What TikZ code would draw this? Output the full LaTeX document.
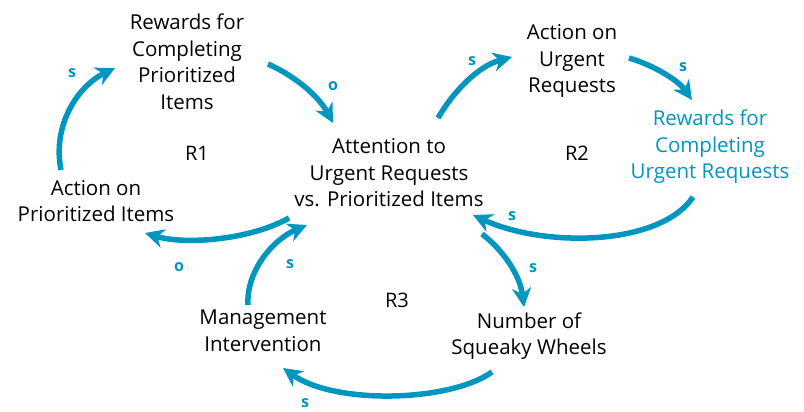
\documentclass[tikz,border=0pt]{standalone}
\usepackage{fontspec}
\setmainfont{Open Sans}
\usetikzlibrary{arrows.meta}
\definecolor{teal1}{RGB}{0,150,192}
\begin{document}
\begin{tikzpicture}[x=1pt,y=-1pt,
 lbl/.style={font=\fontsize{20.5}{26.5}\selectfont, align=center, inner sep=0pt},
 pol/.style={text=teal1, font=\fontsize{16}{16}\selectfont\bfseries, inner sep=0pt},
 link/.style={draw=teal1, line width=5.5pt, -{Stealth[length=19pt,width=19pt,inset=6pt]}},
 loopname/.style={font=\fontsize{20}{22}\selectfont, inner sep=0pt}]
\useasboundingbox (0,0) rectangle (804,412);
% variables
\node[lbl] (rpi) at (187,62) {Rewards for\\Completing\\Prioritized\\Items};
\node[lbl] (aur) at (572,61) {Action on\\Urgent\\Requests};
\node[lbl, text=teal1] (rur) at (710,147) {Rewards for\\Completing\\Urgent Requests};
\node[lbl] (attn) at (389,173) {Attention to\\Urgent Requests\\vs. Prioritized Items};
\node[lbl] (api) at (96,201) {Action on\\Prioritized Items};
\node[lbl] (mgmt) at (263,331) {Management\\Intervention};
\node[lbl] (sqw) at (529,336) {Number of\\Squeaky Wheels};
% loop names
\node[loopname] (r1) at (197,153) {R1};
\node[loopname] (r2) at (577,153) {R2};
\node[loopname] (r3) at (397,300) {R3};
% connector end points
\coordinate (a1s) at (61,170);  \coordinate (a1e) at (115,68);
\coordinate (a2s) at (268,64);  \coordinate (a2e) at (333,123);
\coordinate (a3s) at (289,218); \coordinate (a3e) at (145,233);
\coordinate (a4s) at (248,305); \coordinate (a4e) at (307,225);
\coordinate (a5s) at (492,372); \coordinate (a5e) at (283,368);
\coordinate (a6s) at (482,234); \coordinate (a6e) at (524,307);
\coordinate (a7s) at (693,197); \coordinate (a7e) at (473,215);
\coordinate (a8s) at (438,118); \coordinate (a8e) at (512,57);
\coordinate (a9s) at (629,58);  \coordinate (a9e) at (692,100);
% connectors
\draw[link] (a1s) .. controls (52,125) and (78,86) .. (a1e);
\draw[link] (a2s) .. controls (293,75) and (318,95) .. (a2e);
\draw[link] (a3s) .. controls (250,240) and (185,245) .. (a3e);
\draw[link] (a4s) .. controls (246,272) and (272,240) .. (a4e);
\draw[link] (a5s) .. controls (450,402) and (335,405) .. (a5e);
\draw[link] (a6s) .. controls (503,250) and (520,275) .. (a6e);
\draw[link] (a7s) .. controls (660,246) and (545,248) .. (a7e);
\draw[link] (a8s) .. controls (453,92) and (478,66) .. (a8e);
\draw[link] (a9s) .. controls (653,65) and (678,80) .. (a9e);
% polarities
\node[pol] (p1) at (72,73) {s};
\node[pol] (p2) at (333,86) {o};
\node[pol] (p3) at (179,267) {o};
\node[pol] (p4) at (290,264) {s};
\node[pol] (p5) at (305,403) {s};
\node[pol] (p6) at (533,268) {s};
\node[pol] (p7) at (512,216) {s};
\node[pol] (p8) at (472,61) {s};
\node[pol] (p9) at (683,67) {s};
\end{tikzpicture}
\end{document}
